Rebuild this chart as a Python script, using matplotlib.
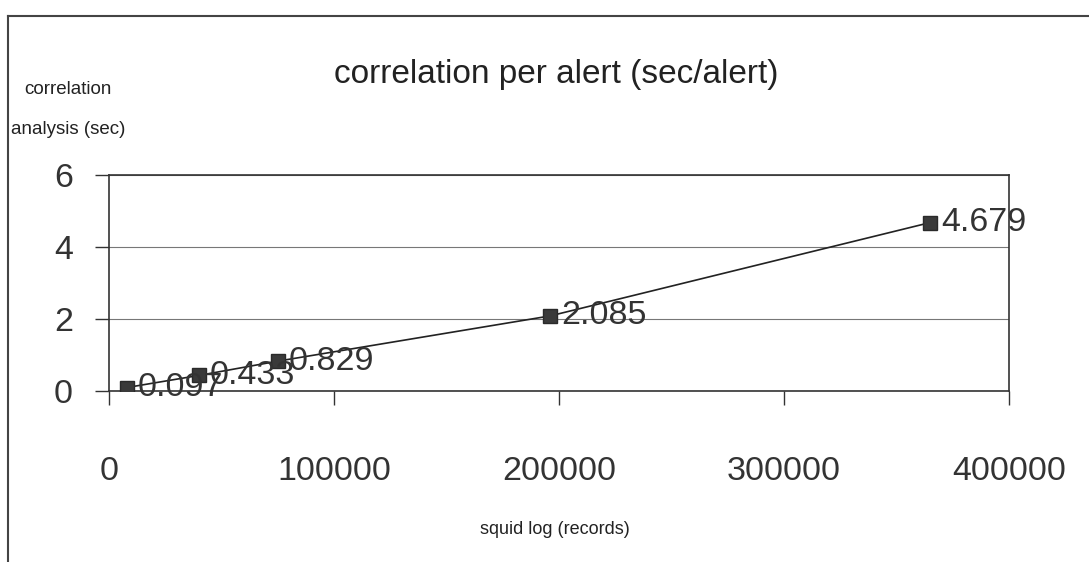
import matplotlib
matplotlib.use("Agg")
import matplotlib.pyplot as plt
from matplotlib.lines import Line2D

plt.rcParams['font.family'] = ['Liberation Sans', 'DejaVu Sans']

# data
records = [8000, 40000, 75000, 196000, 365000]
seconds = [0.097, 0.433, 0.829, 2.085, 4.679]
value_labels = ["0.097", "0.433", "0.829", "2.085", "4.679"]
x_ticks = [0, 100000, 200000, 300000, 400000]
y_ticks = [0, 2, 4, 6]
title = "correlation per alert (sec/alert)"
ylabel_lines = ["correlation", "analysis (sec)"]
xlabel = "squid log (records)"

W, H = 1089, 562
fig = plt.figure(figsize=(W / 100, H / 100), dpi=100)
ax = fig.add_axes([109 / W, 1 - 391 / H, 900 / W, (391 - 175) / H])

ax.plot(records, seconds, color='#222222', lw=1.2, marker='s', ms=9.5,
        mfc='#3a3a3a', mec='#2a2a2a', zorder=3)
for xv, yv, lab in zip(records, seconds, value_labels):
    ax.annotate(lab, (xv, yv), xytext=(8, 0), textcoords='offset points',
                ha='left', va='center', fontsize=24.5, color='#333333', zorder=4)

ax.set_xlim(0, 400000)
ax.set_ylim(0, 6)
ax.set_xticks(x_ticks)
ax.set_xticklabels([str(v) for v in x_ticks])
ax.set_yticks(y_ticks)
ax.set_yticklabels([str(v) for v in y_ticks])
ax.tick_params(axis='x', direction='out', length=10, width=1, pad=37,
               labelsize=24.5, labelcolor='#333333', color='#333333')
ax.tick_params(axis='y', direction='out', length=10, width=1, pad=16,
               labelsize=24.5, labelcolor='#333333', color='#333333')
ax.grid(axis='y', color='#777777', lw=0.8)
ax.set_axisbelow(True)
for s in ax.spines.values():
    s.set_color('#333333')
    s.set_linewidth(1.2)

fig.text(556 / W, 1 - 75 / H, title, ha='center', va='center', fontsize=24,
         color='#222222')
fig.text(68 / W, 1 - 89 / H, ylabel_lines[0], ha='center', va='center',
         fontsize=13.5, color='#222222')
fig.text(68 / W, 1 - 130 / H, ylabel_lines[1], ha='center', va='center',
         fontsize=13.5, color='#222222')
fig.text(555 / W, 1 - 530 / H, xlabel, ha='center', va='center', fontsize=13,
         color='#222222')

# chart border (top and left)
fig.add_artist(Line2D([8 / W, 1.0], [1 - 16 / H, 1 - 16 / H], color='#444444', lw=1.5,
                      transform=fig.transFigure))
fig.add_artist(Line2D([8 / W, 8 / W], [1 - 16 / H, 0.0], color='#444444', lw=1.5,
                      transform=fig.transFigure))

fig.savefig("out.png", dpi=100)
